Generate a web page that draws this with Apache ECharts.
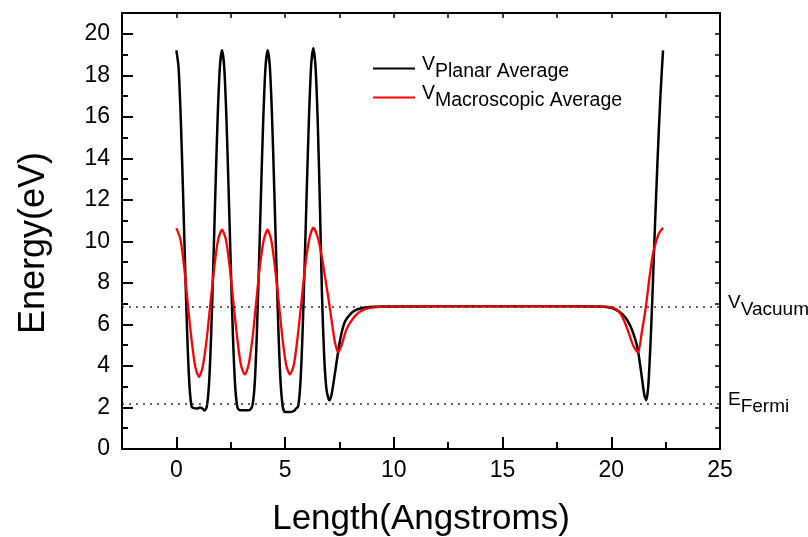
<!DOCTYPE html>
<html>
<head>
<meta charset="utf-8">
<script src="https://cdn.jsdelivr.net/npm/echarts@6/dist/echarts.min.js"></script>
<style>
html,body{margin:0;padding:0;background:#fff;}
#chart{width:808px;height:537px;}
</style>
</head>
<body>
<div id="chart"></div>
<script>
// ---- data ----
const planarX = [0,0.1,0.2,0.3,0.4,0.5,0.6,0.7,0.8,0.95,1.1,1.2,1.3,1.4,1.5,1.6,1.7,1.8,1.9,2.0,2.1,2.2,2.3,2.4,2.5,2.6,2.7,2.8,2.9,3.1,3.3,3.4,3.5,3.6,3.7,3.8,3.9,4.0,4.1,4.2,4.3,4.4,4.5,4.6,4.7,4.8,4.9,5.0,5.2,5.4,5.5,5.6,5.7,5.8,5.9,6.0,6.1,6.2,6.3,6.4,6.5,6.6,6.7,6.8,6.9,7.0,7.05,7.15,7.3,7.45,7.6,7.76,8.0,8.22,8.5,8.9,9.5,12,15,18,19.5,20.0,20.3,20.55,20.74,20.95,21.2,21.4,21.52,21.61,21.7,21.8,21.89,22.0,22.12,22.25,22.38];
const planarY = [19.2,18.4,16.0,12.6,8.9,5.5,3.1,2.05,1.97,1.95,2.0,1.95,1.85,2.05,3.1,5.5,8.9,12.6,16.0,18.4,19.2,18.4,16.0,12.6,8.9,5.5,3.1,2.05,1.88,1.87,1.87,1.9,2.1,3.1,5.5,8.9,12.6,16.0,18.4,19.2,18.4,16.0,12.6,8.9,5.5,3.1,2.0,1.78,1.78,1.83,1.95,2.05,3.1,5.5,8.9,12.6,16.0,18.5,19.3,18.4,15.8,11.8,7.3,4.4,2.9,2.4,2.35,2.7,3.7,4.76,5.6,6.15,6.5,6.68,6.78,6.84,6.86,6.87,6.87,6.87,6.86,6.8,6.65,6.45,6.2,5.75,4.9,3.5,2.6,2.35,3.0,5.0,7.3,10.5,13.7,16.8,19.2];

const macroX = [0,0.175,0.35,0.52,0.7,0.87,1.04,1.21,1.39,1.57,1.75,1.92,2.1,2.28,2.45,2.62,2.8,2.97,3.15,3.32,3.5,3.67,3.84,4.02,4.19,4.36,4.53,4.71,4.88,5.05,5.22,5.4,5.57,5.75,5.93,6.12,6.3,6.5,6.7,6.85,7.0,7.15,7.3,7.45,7.6,7.8,8.0,8.25,8.5,8.8,9.2,9.8,12,15,18,19.8,20.2,20.4,20.58,20.8,21.0,21.23,21.4,21.59,21.75,21.89,22.05,22.2,22.38];
const macroY = [10.64,10.15,8.85,7.05,5.25,3.95,3.48,3.95,5.25,7.05,8.8,10.08,10.56,10.08,8.8,7.08,5.33,4.05,3.59,4.05,5.33,7.08,8.8,10.08,10.56,10.08,8.8,7.08,5.33,4.05,3.59,4.05,5.33,7.08,8.85,10.15,10.66,10.2,9.2,8.2,7.2,6.1,5.1,4.65,5.0,5.7,6.1,6.45,6.65,6.77,6.83,6.86,6.87,6.87,6.87,6.86,6.75,6.55,6.2,5.6,5.0,4.65,5.6,6.84,8.2,9.25,9.95,10.4,10.66];

const seriesNames = ['Planar Average', 'Macroscopic Average'];
const vacuumLevel = 6.87;
const fermiLevel = 2.2;
const xMajorTicks = [0,5,10,15,20,25];
const xMinorTicks = [2.5,7.5,12.5,17.5,22.5];
const xTopTicks = [0,2.5,5,7.5,10,12.5,15,17.5,20,22.5];
const yMajorTicks = [0,2,4,6,8,10,12,14,16,18,20];
const yMinorTicks = [1,3,5,7,9,11,13,15,17,19];
const yRightTicks = [1,2,3,4,5,6,7,8,9,10,11,12,13,14,15,16,17,18,19,20];

// ---- chart ----
const FONT = "'Liberation Sans', Arial, sans-serif";
const zip = (xs, ys) => xs.map((x, i) => [x, ys[i]]);
const X_MIN = -2.5, X_MAX = 25, Y_MIN = 0, Y_MAX = 21;
const axisLineStyle = { color: '#000', width: 2 };
const makeRich = (size) => ({
  v: { fontSize: size, fontFamily: FONT, color: '#000', verticalAlign: 'bottom', padding: [0, 0, 7, 0] },
  s: { fontSize: size, fontFamily: FONT, color: '#000', verticalAlign: 'bottom' }
});

const chart = echarts.init(document.getElementById('chart'), null, { renderer: 'canvas' });
chart.setOption({
  animation: false,
  backgroundColor: '#fff',
  grid: { left: 122, right: 88, top: 13, bottom: 88, containLabel: false, outerBoundsMode: 'none' },
  legend: {
    orient: 'vertical',
    left: 367,
    top: 50,
    itemWidth: 42,
    itemHeight: 14,
    itemGap: 2,
    data: seriesNames,
    itemStyle: { opacity: 0 },
    formatter: (name) => '{v|V}{s|' + name + '}',
    textStyle: { rich: makeRich(19.5), padding: [0, 0, 0, 2] }
  },
  xAxis: [
    {
      type: 'value', position: 'bottom', min: X_MIN, max: X_MAX,
      axisLine: { show: true, onZero: false, lineStyle: axisLineStyle },
      axisTick: { show: true, inside: true, length: 12, customValues: xMajorTicks, lineStyle: { color: '#000', width: 2 } },
      axisLabel: { show: true, customValues: xMajorTicks, fontSize: 23, fontFamily: FONT, color: '#000', margin: 10 },
      splitLine: { show: false },
      name: 'Length(Angstroms)', nameLocation: 'middle', nameGap: 53,
      nameTextStyle: { fontSize: 35, fontFamily: FONT, color: '#000' }
    },
    {
      type: 'value', position: 'bottom', min: X_MIN, max: X_MAX,
      axisLine: { show: false, onZero: false },
      axisTick: { show: true, inside: true, length: 7, customValues: xMinorTicks, lineStyle: { color: '#000', width: 2 } },
      axisLabel: { show: false }, splitLine: { show: false }
    },
    {
      type: 'value', position: 'top', min: X_MIN, max: X_MAX,
      axisLine: { show: true, onZero: false, lineStyle: axisLineStyle },
      axisTick: { show: true, inside: true, length: 5, customValues: xTopTicks, lineStyle: { color: '#000', width: 1.5 } },
      axisLabel: { show: false }, splitLine: { show: false }
    }
  ],
  yAxis: [
    {
      type: 'value', position: 'left', min: Y_MIN, max: Y_MAX,
      axisLine: { show: true, onZero: false, lineStyle: axisLineStyle },
      axisTick: { show: true, inside: true, length: 11, customValues: yMajorTicks, lineStyle: { color: '#000', width: 2 } },
      axisLabel: { show: true, customValues: yMajorTicks, fontSize: 23, fontFamily: FONT, color: '#000', margin: 12 },
      splitLine: { show: false },
      name: 'Energy(eV)', nameLocation: 'middle', nameGap: 70, nameRotate: 90,
      nameTextStyle: { fontSize: 36, fontFamily: FONT, color: '#000', padding: [0, 24, 0, 0] }
    },
    {
      type: 'value', position: 'left', min: Y_MIN, max: Y_MAX,
      axisLine: { show: false, onZero: false },
      axisTick: { show: true, inside: true, length: 6, customValues: yMinorTicks, lineStyle: { color: '#000', width: 2 } },
      axisLabel: { show: false }, splitLine: { show: false }
    },
    {
      type: 'value', position: 'right', min: Y_MIN, max: Y_MAX,
      axisLine: { show: true, onZero: false, lineStyle: axisLineStyle },
      axisTick: { show: true, inside: true, length: 5, customValues: yRightTicks, lineStyle: { color: '#000', width: 1.5 } },
      axisLabel: { show: false }, splitLine: { show: false }
    }
  ],
  series: [
    {
      name: seriesNames[0], type: 'line', xAxisIndex: 0, yAxisIndex: 0,
      data: zip(planarX, planarY),
      showSymbol: false, symbol: 'none', smooth: 0.25,
      lineStyle: { color: '#000', width: 2.5 }, itemStyle: { color: '#000' },
      z: 3,
      markLine: {
        silent: true, symbol: 'none', animation: false,
        lineStyle: { color: '#333', width: 1.5, type: [2, 5] },
        label: { show: true, position: 'end', distance: 8, color: '#000', rich: makeRich(19) },
        data: [
          { yAxis: vacuumLevel, label: { formatter: '{v|V}{s|Vacuum}' } },
          { yAxis: fermiLevel, label: { formatter: '{v|E}{s|Fermi}' } }
        ]
      }
    },
    {
      name: seriesNames[1], type: 'line', xAxisIndex: 0, yAxisIndex: 0,
      data: zip(macroX, macroY),
      showSymbol: false, symbol: 'none', smooth: 0.25,
      lineStyle: { color: '#ff0000', width: 2.3 }, itemStyle: { color: '#ff0000' },
      z: 4
    }
  ]
});
</script>
</body>
</html>
